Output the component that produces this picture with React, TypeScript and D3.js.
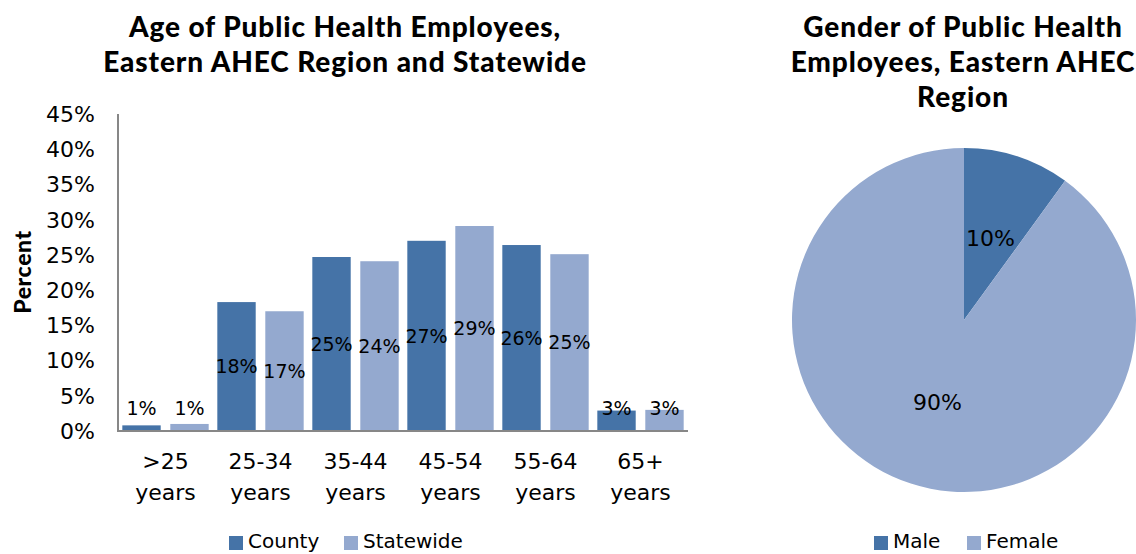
import * as d3 from "d3";

// age groups (two-line labels split on the space)
const categories = [">25 years", "25-34 years", "35-44 years", "45-54 years", "55-64 years", "65+ years"];
const seriesNames = ["County", "Statewide"];
const countyValues = [0.8, 18.3, 24.7, 27.0, 26.4, 2.9];
const statewideValues = [1.0, 17.0, 24.1, 29.1, 25.1, 3.0];
const yTicks = [0, 5, 10, 15, 20, 25, 30, 35, 40, 45];

const genderLabels = ["Male", "Female"];
const genderValues = [10, 90];

const colors = ["#4573A7", "#94A9CF"];
const txt = "DejaVu Sans, sans-serif";
const bold = "Lato, sans-serif";

const App = () => {
    const W = 1136, H = 554;

    // bar chart scales
    const y = d3.scaleLinear().domain([0, 45]).range([431, 114]);
    const x = d3.scaleBand().domain(categories).range([118, 688]);
    const inner = d3.scaleBand()
        .domain(seriesNames)
        .range([0, x.bandwidth()])
        .paddingInner(0.2)
        .paddingOuter(0.09);

    const rows = categories.map((c, i) => ({cat: c, vals: [countyValues[i], statewideValues[i]]}));

    // pie
    const cx = 964, cy = 320, r = 172;
    const pie = d3.pie<number>().sort(null).value(d => d)(genderValues);
    const arc = d3.arc<d3.PieArcDatum<number>>().innerRadius(0).outerRadius(r);

    const legendBar = [229, 344];
    const legendPie = [874, 967];

    return (
        <svg width={W} height={H} style={{position: "absolute", left: 0, top: 0, background: "#fff"}}>
            {/* titles */}
            <g fontFamily={bold} fontWeight={900} fontSize={28} letterSpacing={0.9} textAnchor="middle" fill="#000">
                <text x={345} y={37}>Age of Public Health Employees,</text>
                <text x={345} y={72}>Eastern AHEC Region and Statewide</text>
                <text x={963} y={37}>Gender of Public Health</text>
                <text x={963} y={72}>Employees, Eastern AHEC</text>
                <text x={963} y={107}>Region</text>
            </g>

            <text transform="translate(31,272) rotate(-90)" textAnchor="middle" fontFamily={bold}
                  fontWeight={900} fontSize={23} letterSpacing={0.6}>Percent</text>

            {/* y tick labels */}
            <g fontFamily={txt} fontSize={22} textAnchor="end">
                {yTicks.map(t => (
                    <text key={t} x={95} y={y(t)} dy="0.36em">{t}%</text>
                ))}
            </g>

            {/* bars */}
            {rows.map(row => (
                <g key={row.cat} transform={`translate(${x(row.cat)},0)`}>
                    {row.vals.map((v, j) => {
                        const bx = inner(seriesNames[j])!;
                        const mid = (y(v) + y(0)) / 2;
                        return (
                            <g key={j}>
                                <rect x={bx} y={y(v)} width={inner.bandwidth()} height={y(0) - y(v)}
                                      fill={colors[j]}/>
                                <text x={bx + inner.bandwidth() / 2} y={Math.min(mid, y(0) - 23)} dy="0.36em"
                                      textAnchor="middle" fontFamily={txt} fontSize={19}>
                                    {Math.round(v)}%
                                </text>
                            </g>
                        );
                    })}
                </g>
            ))}

            {/* axes */}
            <line x1={118} x2={118} y1={114} y2={431} stroke="#878787" strokeWidth={2}/>
            <line x1={117} x2={688} y1={431} y2={431} stroke="#878787" strokeWidth={2}/>

            {/* category labels */}
            <g fontFamily={txt} fontSize={22} textAnchor="middle">
                {categories.map(c => {
                    const parts = c.split(" ");
                    const mx = x(c)! + x.bandwidth() / 2;
                    return (
                        <g key={c}>
                            <text x={mx} y={469}>{parts[0]}</text>
                            <text x={mx} y={500}>{parts[1]}</text>
                        </g>
                    );
                })}
            </g>

            {/* bar legend */}
            <g fontFamily={txt} fontSize={20}>
                {seriesNames.map((s, i) => (
                    <g key={s}>
                        <rect x={legendBar[i]} y={536} width={14} height={14} fill={colors[i]}/>
                        <text x={legendBar[i] + 19} y={548}>{s}</text>
                    </g>
                ))}
            </g>

            {/* pie */}
            <g transform={`translate(${cx},${cy})`}>
                {pie.map((p, i) => (
                    <path key={i} d={arc(p)!} fill={colors[i]}/>
                ))}
                {pie.map((p, i) => {
                    const [lx, ly] = arc.centroid(p);
                    return (
                        <text key={"l" + i} x={lx} y={ly} dy="0.36em" textAnchor="middle"
                              fontFamily={txt} fontSize={22}>{p.data}%</text>
                    );
                })}
            </g>

            {/* pie legend */}
            <g fontFamily={txt} fontSize={20}>
                {genderLabels.map((s, i) => (
                    <g key={s}>
                        <rect x={legendPie[i]} y={536} width={14} height={14} fill={colors[i]}/>
                        <text x={legendPie[i] + 19} y={548}>{s}</text>
                    </g>
                ))}
            </g>
        </svg>
    );
};

export default App;
